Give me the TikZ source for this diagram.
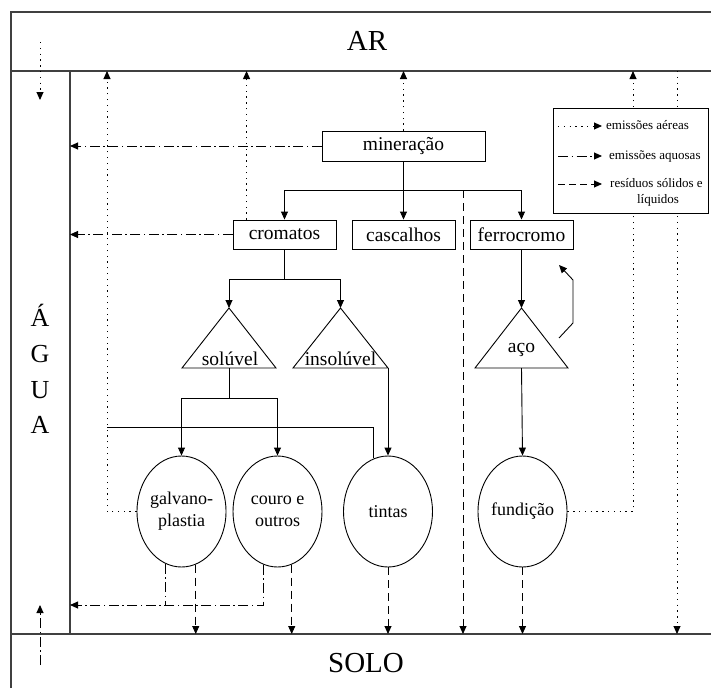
\documentclass[tikz,border=0pt]{standalone}
\usepackage{fontspec}
\setmainfont{Liberation Serif}
\usetikzlibrary{arrows.meta,shapes.geometric}
\begin{document}
\begin{tikzpicture}[x=1pt,y=-1pt,
  tip/.style={-{Triangle[length=8pt,width=7pt]}},
  con/.style={line width=0.9pt, draw=black},
  dots/.style={con, dash pattern=on 1.3pt off 4.5pt},
  dashdot/.style={con, dash pattern=on 10pt off 3.5pt on 1.5pt off 3.5pt},
  dashes/.style={con, dash pattern=on 8pt off 5pt},
  frame/.style={line width=1.2pt, draw=black!75},
  boxn/.style={draw, line width=0.9pt, rectangle, inner sep=0pt, minimum height=29pt, font=\fontsize{19.5}{23}\selectfont},
  elln/.style={draw, line width=0.9pt, ellipse, inner sep=0pt, minimum width=89pt, minimum height=111pt, align=center, font=\fontsize{18}{22}\selectfont},
  big/.style={font=\fontsize{29}{32}\selectfont, inner sep=0pt},
  agua/.style={font=\fontsize{26}{30}\selectfont, inner sep=0pt},
  trit/.style={font=\fontsize{19.5}{23}\selectfont, inner sep=0pt},
  leg/.style={font=\fontsize{13}{16}\selectfont, inner sep=0pt},
  tri/.style={draw, line width=0.9pt, line join=miter}
]
\useasboundingbox (0,0) rectangle (711,688);

% frame
\draw[frame] (11,688) -- (11,12) -- (711,12);
\draw[frame] (11,71) -- (711,71);
\draw[frame] (11,634) -- (711,634);
\draw[frame] (70,71) -- (70,634);

\coordinate (arL) at (0,71);
\coordinate (soL) at (0,634);
\coordinate (waX) at (70,0);

% compartment labels
\node[big, anchor=base] (ar) at (367,50) {AR};
\node[big, anchor=base] (solo) at (366,672) {SOLO};
\node[agua, anchor=base] (ag1) at (40,326) {Á};
\node[agua, anchor=base] (ag2) at (40,362) {G};
\node[agua, anchor=base] (ag3) at (40,398) {U};
\node[agua, anchor=base] (ag4) at (40,433) {A};

% boxes
\node[boxn, minimum width=163pt, minimum height=30pt] (min) at (403.5,146) {mineração};
\node[boxn, minimum width=103pt] (crom) at (284.5,234.5) {cromatos};
\node[boxn, minimum width=103pt] (casc) at (403.5,234.5) {cascalhos};
\node[boxn, minimum width=103pt] (ferro) at (521.5,234.5) {ferrocromo};

% triangles
\coordinate (solA) at (229,308); \coordinate (solL) at (182,368);
\coordinate (solR) at (276,368); \coordinate (solB) at (229,368);
\draw[tri] (solA) -- (solL) -- (solR) -- cycle;
\node[trit, anchor=base] (soltxt) at (230,365) {solúvel};

\coordinate (insA) at (340.5,308); \coordinate (insL) at (293,368);
\coordinate (insR) at (388,368);
\draw[tri] (insA) -- (insL) -- (insR) -- cycle;
\node[trit, anchor=base] (instxt) at (340.5,365) {insolúvel};

\coordinate (acoA) at (521.5,308); \coordinate (acoL) at (475,368);
\coordinate (acoR) at (568,368); \coordinate (acoB) at (521.5,368);
\draw[tri] (acoA) -- (acoL) -- (acoR) -- cycle;
\node[trit, anchor=base] (acotxt) at (521.5,352) {aço};

% ellipses
\node[elln] (galv) at (181.5,511.5) {galvano-\\plastia};
\node[elln] (couro) at (277.5,511.5) {couro e\\outros};
\node[elln] (tint) at (388,511.5) {tintas};
\node[elln] (fund) at (522.5,511.5) {fundição};

% tree from mineração
\coordinate (y190) at (0,190);
\draw[con] (min.south) -- (min.south |- y190);
\draw[con] (crom.north |- y190) -- (ferro.north |- y190);
\draw[con,tip] (crom.north |- y190) -- (crom.north);
\draw[con,tip] (casc.north |- y190) -- (casc.north);
\draw[con,tip] (ferro.north |- y190) -- (ferro.north);

% cromatos to triangles
\coordinate (y279) at (0,279);
\draw[con] (crom.south) -- (crom.south |- y279);
\draw[con] (solA |- y279) -- (insA |- y279);
\draw[con,tip] (solA |- y279) -- (solA);
\draw[con,tip] (insA |- y279) -- (insA);

% solúvel to ellipses
\coordinate (y398) at (0,398);
\draw[con] (solB) -- (solB |- y398);
\draw[con] (galv.north |- y398) -- (couro.north |- y398);
\draw[con,tip] (galv.north |- y398) -- (galv.north);
\draw[con,tip] (couro.north |- y398) -- (couro.north);

% insolúvel to tintas
\draw[con,tip] (insR) -- (tint.north);

% ferrocromo - aço - fundição
\draw[con,tip] (ferro.south) -- (acoA);
\draw[con,tip] (acoB) -- (fund.north);
\coordinate (c1) at (559,338); \coordinate (c2) at (573,323);
\coordinate (c3) at (573,280); \coordinate (c4) at (559,265);
\draw[con,tip] (c1) -- (c2) -- (c3) -- (c4);

% solid line to tintas
\coordinate (lineS) at (107,427);
\draw[con] (lineS) -| (tint.105);

% aerial emissions (dotted)
\coordinate (galvUp) at (107,71);
\draw[dots,tip] (galv.west) -| (galvUp);
\coordinate (cromUp) at ([xshift=14pt]crom.north west);
\draw[dots,tip] (cromUp) -- (cromUp |- arL);
\draw[dots,tip] (min.north) -- (min.north |- arL);
\coordinate (fundUp) at (633,71);
\draw[dots,tip] (fund.east) -| (fundUp);
\coordinate (rTop) at (677,71); \coordinate (rBot) at (677,634);
\draw[dots,tip] (rTop) -- (rBot);
\coordinate (agTop) at (40,42); \coordinate (agBot) at (40,100);
\draw[dots,tip] (agTop) -- (agBot);

% aqueous emissions (dash-dot)
\draw[dashdot,tip] (min.west) -- (min.west -| waX);
\draw[dashdot,tip] (crom.west) -- (crom.west -| waX);
\coordinate (y605) at (0,605);
\draw[dashdot] (galv.253) -- (galv.253 |- y605);
\draw[dashdot,tip] (couro.255) -- (couro.255 |- y605) -- (y605 -| waX);
\coordinate (sB1) at (40,665); \coordinate (sB2) at (40,605);
\draw[dashdot,tip] (sB1) -- (sB2);

% solid / liquid residues (dashed)
\draw[dashes,tip] (galv.285) -- (galv.285 |- soL);
\draw[dashes,tip] (couro.285) -- (couro.285 |- soL);
\draw[dashes,tip] (tint.south) -- (tint.south |- soL);
\draw[dashes,tip] (fund.south) -- (fund.south |- soL);
\coordinate (dTop) at (463,190); \coordinate (dBot) at (463,634);
\draw[dashes,tip] (dTop) -- (dBot);

% legend
\node[draw, fill=white, line width=0.9pt, minimum width=155pt, minimum height=105pt, inner sep=0pt] (legend) at (630.5,160.5) {};
\coordinate (l1a) at (558,126); \coordinate (l1b) at (602,126);
\draw[dots,tip] (l1a) -- (l1b);
\node[leg, anchor=base west] (l1t) at (606,129) {emissões aéreas};
\coordinate (l2a) at (558,156); \coordinate (l2b) at (602,156);
\draw[dashdot,tip] (l2a) -- (l2b);
\node[leg, anchor=base west] (l2t) at (609,159) {emissões aquosas};
\coordinate (l3a) at (558,184); \coordinate (l3b) at (602,184);
\draw[con, dash pattern=on 7pt off 4pt, tip] (l3a) -- (l3b);
\node[leg, anchor=base west] (l3t) at (610,187) {resíduos sólidos e};
\node[leg, anchor=base] (l4t) at (658,203) {líquidos};
\end{tikzpicture}
\end{document}
